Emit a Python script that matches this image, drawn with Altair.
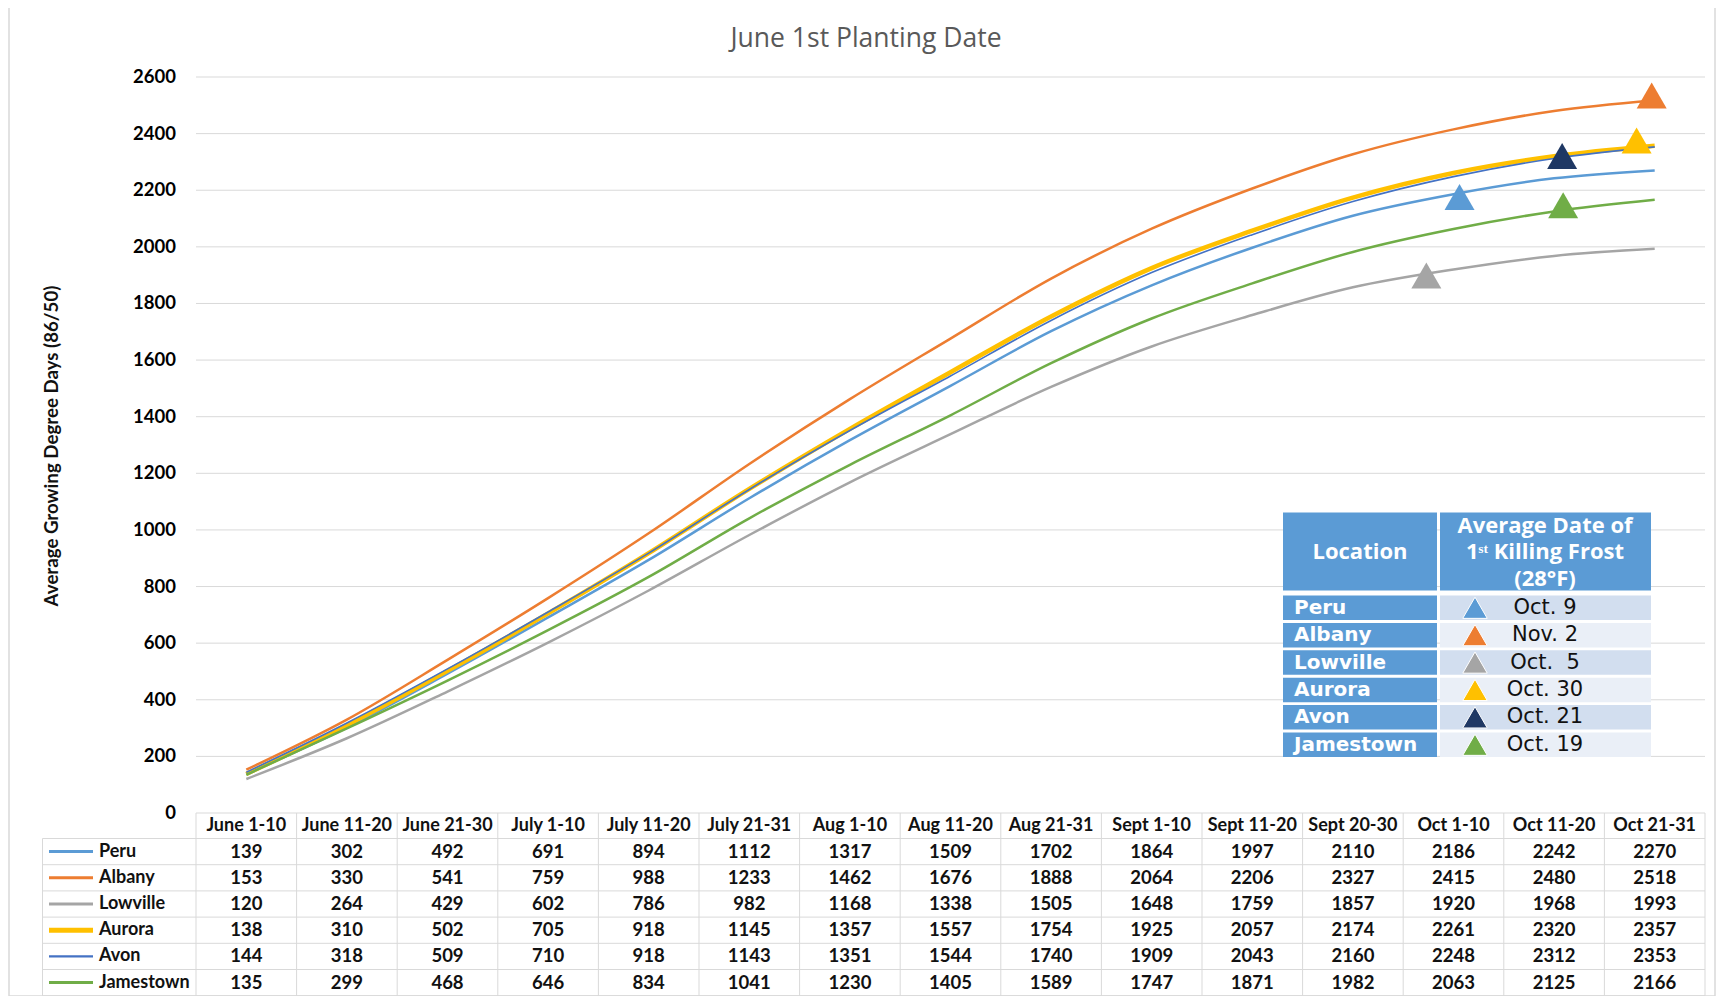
import altair as alt
import pandas as pd

# ---------------- data ----------------
categories = ["June 1-10", "June 11-20", "June 21-30", "July 1-10", "July 11-20",
              "July 21-31", "Aug 1-10", "Aug 11-20", "Aug 21-31", "Sept 1-10",
              "Sept 11-20", "Sept 20-30", "Oct 1-10", "Oct 11-20", "Oct 21-31"]
locations = ["Peru", "Albany", "Lowville", "Aurora", "Avon", "Jamestown"]
peru = [139, 302, 492, 691, 894, 1112, 1317, 1509, 1702, 1864, 1997, 2110, 2186, 2242, 2270]
albany = [153, 330, 541, 759, 988, 1233, 1462, 1676, 1888, 2064, 2206, 2327, 2415, 2480, 2518]
lowville = [120, 264, 429, 602, 786, 982, 1168, 1338, 1505, 1648, 1759, 1857, 1920, 1968, 1993]
aurora = [138, 310, 502, 705, 918, 1145, 1357, 1557, 1754, 1925, 2057, 2174, 2261, 2320, 2357]
avon = [144, 318, 509, 710, 918, 1143, 1351, 1544, 1740, 1909, 2043, 2160, 2248, 2312, 2353]
jamestown = [135, 299, 468, 646, 834, 1041, 1230, 1405, 1589, 1747, 1871, 1982, 2063, 2125, 2166]
series_values = [peru, albany, lowville, aurora, avon, jamestown]

frost_dates = ["Oct. 9", "Nov. 2", "Oct.\u00a0 5", "Oct. 30", "Oct. 21", "Oct. 19"]
frost_period = [12.06, 13.97, 11.73, 13.82, 13.08, 13.09]   # position along the period axis
frost_gdd = [2176, 2535, 1899, 2376, 2321, 2147]

y_ticks = [0, 200, 400, 600, 800, 1000, 1200, 1400, 1600, 1800, 2000, 2200, 2400, 2600]
chart_title = "June 1st Planting Date"
y_title = "Average Growing Degree Days (86/50)"
inset_col1 = "Location"
inset_col2 = ["Average Date of", "1\u02e2\u1d57 Killing Frost", "(28\u00b0F)"]

# ---------------- styles ----------------
line_colors = ["#5B9BD5", "#ED7D31", "#A5A5A5", "#FFC000", "#4472C4", "#70AD47"]
line_widths = [2.5, 2.5, 2.5, 4.5, 1.6, 2.5]
tri_colors = ["#5B9BD5", "#ED7D31", "#A5A5A5", "#FFC000", "#1F3864", "#70AD47"]
GRID = "#D9D9D9"
BLUE = "#5B9BD5"
BANDS = ["#D2DEEF", "#EAEFF7"]

# ---------------- layout frame (page pixels -> data units) ----------------
PX_LEFT, PX_TOP = 42, 75
PAD_TOP = 69
COL_W = 100.6
LEFT_COL = 154
X_MIN = -0.5 - LEFT_COL / COL_W
X_MAX = len(categories) - 0.5
W = round((X_MAX - X_MIN) * COL_W)
Y_MAX = 2600
K = 736 / 2600
H = 919
Y_MIN = Y_MAX - H / K


def fx(px):
    return X_MIN + (px - PX_LEFT) / COL_W


def fy(py):
    return Y_MAX - (py - PX_TOP) / K


XS = alt.Scale(domain=[X_MIN, X_MAX], nice=False, zero=False)
YS = alt.Scale(domain=[Y_MIN, Y_MAX], nice=False, zero=False)


def XQ(f="x"):
    return alt.X(f"{f}:Q", scale=XS, axis=None)


def YQ(f="y"):
    return alt.Y(f"{f}:Q", scale=YS, axis=None)


FONT = "Lato"
layers = []

# outer frame
layers.append(
    alt.Chart(pd.DataFrame({"a": [0]})).mark_rect(filled=False, stroke=GRID, strokeWidth=1.5)
    .encode(x=alt.value(-33), x2=alt.value(W + 10), y=alt.value(-71), y2=alt.value(H))
)

# title
tt_df = pd.DataFrame({"x": [fx(866)], "y": [fy(37)], "t": [chart_title]})
layers.append(alt.Chart(tt_df).mark_text(align="center", baseline="middle", font="Open Sans",
                                         fontSize=26.5, color="#595959")
              .encode(x=XQ(), y=YQ(), text="t:N"))

# horizontal gridlines
grid_df = pd.DataFrame({"y": y_ticks, "x": -0.5, "x2": X_MAX})
layers.append(alt.Chart(grid_df).mark_rule(color=GRID, strokeWidth=1)
              .encode(x=XQ(), x2=alt.X2("x2"), y=YQ()))

# table lines
HEADER_PY = 823.5
ROW_PY0 = 849.6
ROW_H = 26.2
row_centers = [fy(ROW_PY0 + i * ROW_H) for i in range(len(locations))]
hl_df = pd.DataFrame({"y": [fy(ROW_PY0 - ROW_H / 2 + k * ROW_H) for k in range(len(locations) + 1)],
                      "x": X_MIN + 0.005, "x2": X_MAX})
layers.append(alt.Chart(hl_df).mark_rule(color=GRID, strokeWidth=1)
              .encode(x=XQ(), x2=alt.X2("x2"), y=YQ()))
vl_df = pd.DataFrame({"x": [k - 0.5 for k in range(len(categories) + 1)], "y": 0, "y2": Y_MIN})
vl_df = pd.concat([vl_df, pd.DataFrame({"x": [X_MIN + 0.005], "y": [fy(ROW_PY0 - ROW_H / 2)],
                                        "y2": [Y_MIN]})])
layers.append(alt.Chart(vl_df).mark_rule(color=GRID, strokeWidth=1)
              .encode(x=XQ(), y=YQ(), y2=alt.Y2("y2")))

# series lines
for name, vals, c, w in zip(locations, series_values, line_colors, line_widths):
    df = pd.DataFrame({"x": list(range(len(categories))), "y": vals, "loc": name})
    layers.append(alt.Chart(df).mark_line(interpolate="monotone", color=c, strokeWidth=w)
                  .encode(x=XQ(), y=YQ()))

# frost triangles on the plot
tri_df = pd.DataFrame({"x": frost_period, "y": frost_gdd, "loc": locations, "c": tri_colors})
layers.append(alt.Chart(tri_df).mark_point(shape="triangle-up", filled=True, size=900, opacity=1)
              .encode(x=XQ(), y=YQ(), color=alt.Color("c:N", scale=None)))

# y tick labels
yl_df = pd.DataFrame({"y": y_ticks, "x": -0.5, "t": [str(v) for v in y_ticks]})
layers.append(alt.Chart(yl_df).mark_text(align="right", baseline="middle", dx=-20, font=FONT,
                                         fontWeight="bold", fontSize=18.5, color="#000")
              .encode(x=XQ(), y=YQ(), text="t:N"))

# y title
yt_df = pd.DataFrame({"x": [fx(52)], "y": [fy(444)], "t": [y_title]})
layers.append(alt.Chart(yt_df).mark_text(angle=270, align="center", baseline="middle", font=FONT,
                                         fontWeight="bold", fontSize=18.7, color="#111")
              .encode(x=XQ(), y=YQ(), text="t:N"))

# table header
th_df = pd.DataFrame({"x": list(range(len(categories))), "y": fy(HEADER_PY), "t": categories})
layers.append(alt.Chart(th_df).mark_text(align="center", baseline="middle", font=FONT,
                                         fontWeight="bold", fontSize=18, color="#111")
              .encode(x=XQ(), y=YQ(), text="t:N"))

# table cells
cells = []
for r, vals in enumerate(series_values):
    for i, v in enumerate(vals):
        cells.append({"x": i, "y": row_centers[r], "t": str(v)})
layers.append(alt.Chart(pd.DataFrame(cells)).mark_text(align="center", baseline="middle", font=FONT,
                                                       fontWeight="bold", fontSize=18.5, color="#111")
              .encode(x=XQ(), y=YQ(), text="t:N"))

# row names + legend swatches
rn_df = pd.DataFrame({"x": fx(99), "y": row_centers, "t": locations})
layers.append(alt.Chart(rn_df).mark_text(align="left", baseline="middle", font=FONT,
                                         fontWeight="bold", fontSize=18, color="#111")
              .encode(x=XQ(), y=YQ(), text="t:N"))
sw_df = pd.DataFrame({"x": fx(49), "x2": fx(93), "y": row_centers, "c": line_colors,
                      "w": [w + 0.5 for w in line_widths]})
layers.append(alt.Chart(sw_df).mark_rule()
              .encode(x=XQ(), x2=alt.X2("x2"), y=YQ(), color=alt.Color("c:N", scale=None),
                      strokeWidth=alt.StrokeWidth("w:Q", scale=None)))

# ---------------- inset table (frost dates) ----------------
IN_L, IN_M1, IN_M2, IN_R = 1283, 1437, 1440, 1651
HD_T, HD_B = 510.5, 588.5
IR_T0, IR_P, IR_H = 593.5, 27.4, 24.5
rects = [
    {"x": fx(IN_L), "x2": fx(IN_M1), "y": fy(HD_T), "y2": fy(HD_B), "c": BLUE},
    {"x": fx(IN_M2), "x2": fx(IN_R), "y": fy(HD_T), "y2": fy(HD_B), "c": BLUE},
]
for k in range(len(locations)):
    t = IR_T0 + k * IR_P
    rects.append({"x": fx(IN_L), "x2": fx(IN_M1), "y": fy(t), "y2": fy(t + IR_H), "c": BLUE})
    rects.append({"x": fx(IN_M2), "x2": fx(IN_R), "y": fy(t), "y2": fy(t + IR_H), "c": BANDS[k % 2]})
layers.append(alt.Chart(pd.DataFrame(rects)).mark_rect()
              .encode(x=XQ(), x2=alt.X2("x2"), y=YQ(), y2=alt.Y2("y2"),
                      color=alt.Color("c:N", scale=None)))

in_centers = [fy(IR_T0 + k * IR_P + IR_H / 2) for k in range(len(locations))]
hdr_df = pd.DataFrame({"x": [fx((IN_L + IN_M1) / 2)] + [fx(1545)] * 3,
                       "y": [fy(550.2), fy(523.5), fy(550.2), fy(576.8)],
                       "t": [inset_col1] + inset_col2})
layers.append(alt.Chart(hdr_df).mark_text(align="center", baseline="middle", font="Open Sans",
                                          fontWeight="bold", fontSize=22, color="white")
              .encode(x=XQ(), y=YQ(), text="t:N"))
inn_df = pd.DataFrame({"x": fx(1294), "y": in_centers, "t": locations})
layers.append(alt.Chart(inn_df).mark_text(align="left", baseline="middle", font="DejaVu Sans",
                                          fontWeight="bold", fontSize=20, color="white")
              .encode(x=XQ(), y=YQ(), text="t:N"))
ind_df = pd.DataFrame({"x": fx(1545), "y": in_centers, "t": frost_dates})
layers.append(alt.Chart(ind_df).mark_text(align="center", baseline="middle", font="DejaVu Sans",
                                          fontSize=21, color="#111")
              .encode(x=XQ(), y=YQ(), text="t:N"))
intri_df = pd.DataFrame({"x": fx(1475), "y": in_centers, "c": tri_colors})
layers.append(alt.Chart(intri_df).mark_point(shape="triangle-up", filled=True, size=600, opacity=1,
                                             stroke="white", strokeWidth=1)
              .encode(x=XQ(), y=YQ(), color=alt.Color("c:N", scale=None)))

chart = alt.layer(*layers).properties(
    width=W, height=H,
    autosize=alt.AutoSizeParams(type="none"),
    padding={"left": PX_LEFT - 8, "top": PAD_TOP, "right": 12, "bottom": 0},
).configure_view(stroke=None)

chart.save("out.html", embed_options={"renderer": "svg", "actions": False})
